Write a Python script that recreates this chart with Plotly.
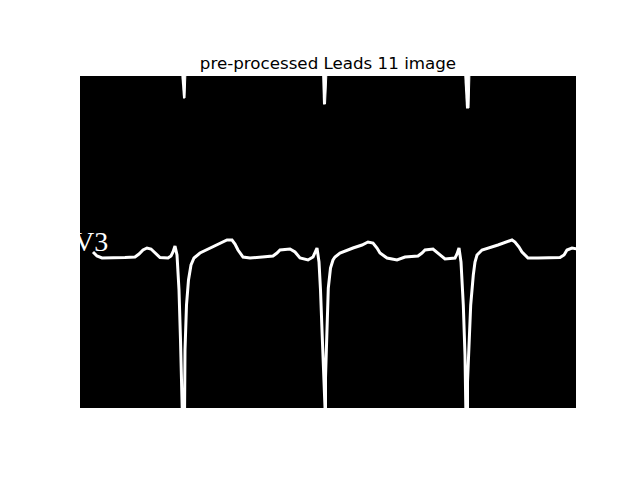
import plotly.graph_objects as go

# ECG trace (image pixel coords: x right, y down)
trace_x = [13, 17, 22, 32, 45, 55, 59, 63, 67, 71, 75, 80, 88, 91, 93, 95, 97, 99, 100.5, 101.5, 102.5,
           104.5, 104.5, 105, 106.5, 108.5, 111, 114, 120, 133, 142, 147, 152, 155, 158, 163, 170, 180, 193,
           197, 200, 210, 215, 220, 228, 233, 235, 237, 239, 240.5, 242.3, 243.5, 244.5,
           245.5, 245.5, 246.7, 248.3, 250.5, 253, 255, 260, 273, 282, 288, 293, 297, 300, 307, 317, 325,
           338, 342, 345, 353, 358, 365, 375, 377, 379, 381, 383.3, 385, 386,
           387.5, 387.5, 388.5, 390.7, 393.3, 395, 397, 402, 418, 426, 432, 435, 439, 442, 448, 458, 472,
           480, 484, 487, 492, 498]
trace_y = [176, 180, 182, 182, 181.5, 181, 178, 174, 172, 173, 177, 181.5, 182, 180, 176, 170, 179, 214, 264, 304, 344,
           344, 314, 274, 229, 204, 189, 182, 177, 171, 167, 164, 164, 168, 174, 181, 182, 181, 180,
           177, 174, 173, 176, 182, 184, 181, 177, 172, 186, 214, 262, 302, 344,
           344, 302, 262, 212, 192, 184, 181, 177, 172, 169, 166, 167, 172, 177, 182, 184, 181,
           180, 177, 174, 173, 177, 183, 182, 178, 172, 186, 229, 279, 344,
           344, 306, 279, 229, 199, 186, 179, 174, 169, 166, 164, 166, 171, 176, 182, 182, 182,
           181.5, 179, 174, 172, 173]

# R-wave tips of the lead above, entering from the top edge (polygon outlines)
spike_xs = [[101, 106, 105, 103], [242, 247, 245.5, 243], [384, 390, 389, 386]]
spike_ys = [[-5, -5, 22, 22], [-5, -5, 28, 28], [-5, -5, 32, 32]]

lead_label = "V3"
title_text = "pre-processed Leads 11 image"
img_w, img_h = 496, 332

fig = go.Figure()
fig.add_trace(go.Scatter(x=trace_x, y=trace_y, mode="lines",
                         line=dict(color="white", width=3), hoverinfo="skip"))
for sx, sy in zip(spike_xs, spike_ys):
    fig.add_trace(go.Scatter(x=sx, y=sy, mode="lines", fill="toself", fillcolor="white",
                             line=dict(color="white", width=1), hoverinfo="skip"))

fig.add_annotation(x=0, y=165, xref="x", yref="y", text=lead_label, showarrow=False,
                   xanchor="left", yanchor="middle", xshift=-8,
                   font=dict(family="Liberation Serif", size=28, color="white"))

fig.update_layout(
    width=640, height=480,
    margin=dict(l=80, r=64, t=76, b=72),
    paper_bgcolor="white", plot_bgcolor="black",
    showlegend=False,
    title=dict(text=title_text, x=0.5, xref="paper", xanchor="center",
               y=1 - 63 / 480, yref="container", yanchor="middle",
               font=dict(family="DejaVu Sans", size=16.7, color="black")),
    xaxis=dict(range=[0, img_w], visible=False, fixedrange=True),
    yaxis=dict(range=[img_h, 0], visible=False, fixedrange=True),
)
fig.write_html("out.html")
